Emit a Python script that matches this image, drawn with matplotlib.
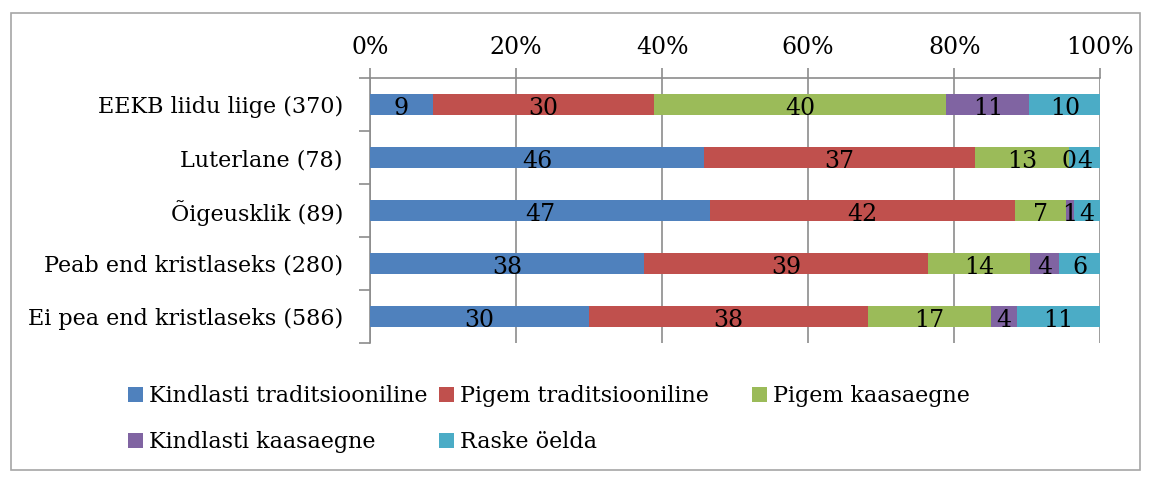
import matplotlib
matplotlib.use("Agg")
import matplotlib.pyplot as plt
import matplotlib.patches as mpatches
import numpy as np

plt.rcParams["font.family"] = ["DejaVu Serif"]

# ---------------------------------------------------------------------------
# Data (percent shares)
# ---------------------------------------------------------------------------
groups = [
    "EEKB liidu liige (370)",
    "Luterlane (78)",
    "Õigeusklik (89)",
    "Peab end kristlaseks (280)",
    "Ei pea end kristlaseks (586)",
]
series = [
    "Kindlasti traditsiooniline",
    "Pigem traditsiooniline",
    "Pigem kaasaegne",
    "Kindlasti kaasaegne",
    "Raske öelda",
]
kindlasti_trad = [8.6, 45.8, 46.6, 37.6, 29.9]
pigem_trad = [30.4, 37.0, 41.8, 39.0, 38.2]
pigem_kaas = [40.0, 13.0, 7.0, 14.0, 16.8]
kindlasti_kaas = [11.4, 0.0, 1.1, 4.0, 3.6]
raske = [9.7, 4.2, 3.6, 5.6, 11.4]

COLORS = ["#4F81BD", "#C0504D", "#9BBB59", "#8064A2", "#4BACC6"]
GRID = "#8C8C8C"
FS = 16

values = np.array([kindlasti_trad, pigem_trad, pigem_kaas, kindlasti_kaas, raske])
shares = values / values.sum(axis=0) * 100

fig = plt.figure(figsize=(11.49, 4.79), dpi=100)
ax = fig.add_axes([0.322, 0.284, 0.6355, 0.553])

y = np.arange(len(groups))
left = np.zeros(len(groups))
handles = []
for i, name in enumerate(series):
    bars = ax.barh(y, shares[i], left=left, height=0.41, color=COLORS[i],
                   edgecolor="none", label=name, zorder=3)
    handles.append(bars)
    for j in range(len(groups)):
        ax.text(left[j] + shares[i][j] / 2, y[j] + 0.19, f"{values[i][j]:.0f}",
                ha="center", va="baseline", fontsize=FS + 1, color="black", zorder=4)
    left += shares[i]

ax.set_xlim(0, 100)
ax.set_ylim(len(groups) - 0.5, -0.5)
ax.xaxis.tick_top()
ax.set_xticks(np.arange(0, 101, 20))
ax.set_xticklabels([f"{v}%" for v in range(0, 101, 20)], fontsize=FS + 1)
ax.tick_params(axis="x", length=7, color=GRID, width=1.2, pad=7)
ax.grid(axis="x", color=GRID, lw=1.2, zorder=0)
ax.grid(axis="y", visible=False)

ax.set_yticks(y)
ax.set_yticklabels(groups, fontsize=FS)
ax.set_yticks(np.arange(-0.5, len(groups), 1), minor=True)
ax.tick_params(axis="y", which="major", length=0, pad=19.5)
ax.tick_params(axis="y", which="minor", length=8, color=GRID, width=1.2)

for side in ["right", "bottom"]:
    ax.spines[side].set_visible(False)
for side in ["left", "top"]:
    ax.spines[side].set_color(GRID)
    ax.spines[side].set_linewidth(1.2)

# legend: fixed-width columns, filled row by row
columns = [[0, 3], [1, 4], [2]]
col_x = [0.1114, 0.3821, 0.6545]
for idx, cx in zip(columns, col_x):
    fig.legend([handles[k] for k in idx], [series[k] for k in idx],
               loc="upper left", bbox_to_anchor=(cx, 0.1965),
               frameon=False, fontsize=FS, handlelength=0.67, handleheight=0.67,
               handletextpad=0.28, labelspacing=1.1,
               borderaxespad=0, borderpad=0)

# outer frame
fig.patches.append(mpatches.Rectangle((0.0096, 0.019), 0.983, 0.954,
                                      transform=fig.transFigure, fill=False,
                                      edgecolor="#A6A6A6", lw=1.2))

fig.savefig("out.png", dpi=100, facecolor="white")
